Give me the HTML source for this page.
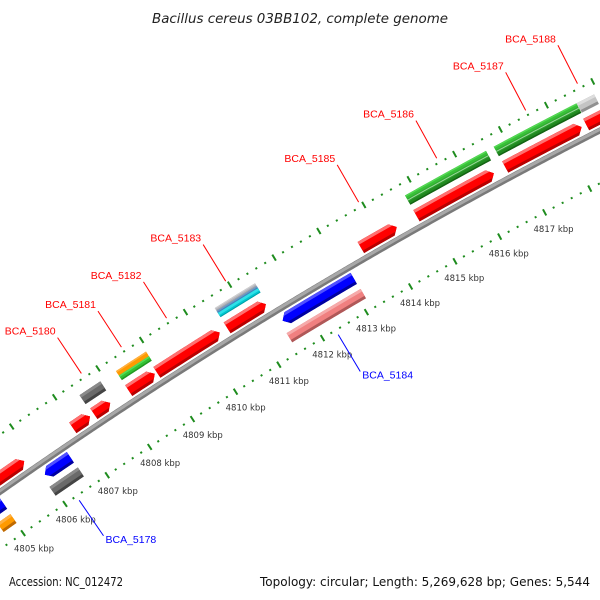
<!DOCTYPE html>
<html><head><meta charset="utf-8"><title>Bacillus cereus 03BB102 genome map</title>
<style>
html,body{margin:0;padding:0;background:#fff;}
svg{display:block;}
</style></head>
<body>
<svg id="map" width="600" height="600" viewBox="0 0 600 600" xmlns="http://www.w3.org/2000/svg">
  <rect x="0" y="0" width="600" height="600" fill="#ffffff"/>
  <defs id="defs"></defs>
  <g id="plot"></g>
  <text x="300" y="23" text-anchor="middle" font-family="'DejaVu Sans','Liberation Sans',sans-serif" font-style="italic" font-size="13" fill="#222" textLength="296" lengthAdjust="spacingAndGlyphs">Bacillus cereus 03BB102, complete genome</text>
  <text x="9" y="586" font-family="'DejaVu Sans','Liberation Sans',sans-serif" font-size="12" fill="#111" textLength="114" lengthAdjust="spacingAndGlyphs">Accession: NC_012472</text>
  <text x="590" y="586" text-anchor="end" font-family="'DejaVu Sans','Liberation Sans',sans-serif" font-size="12" fill="#111" textLength="330" lengthAdjust="spacingAndGlyphs">Topology: circular; Length: 5,269,628 bp; Genes: 5,544</text>
</svg>
<script>
// ---- data (kbp positions) ----
const featStart  = [4803.9, 4806.96, 4807.45, 4807.42, 4808.26, 4808.26, 4808.91, 4810.52, 4810.52, 4813.54, 4814.78, 4814.78, 4816.74, 4816.73, 4818.54, 4818.51, 4811.51, 4811.45, 4806.00, 4805.94, 4804.30, 4804.70];
const featEnd    = [4805.82, 4807.36, 4807.83, 4807.90, 4808.86, 4808.95, 4810.35, 4811.40, 4811.43, 4814.34, 4816.49, 4816.56, 4818.41, 4818.53, 4818.91, 4819.30, 4813.12, 4813.13, 4806.60, 4806.61, 4805.02, 4805.01];
const featStrand = [1, 1, 1, 1, 1, 1, 1, 1, 1, 1, 1, 1, 1, 1, 1, 1, -1, -1, -1, -1, -1, -1];
const featKind   = ["cds","cds","cds","gene","cds","gene","cds","cds","gene","cds","cds","gene","cds","gene","gene","cds","cds","gene","cds","gene","cds","gene"];
const featColor  = ["red","red","red","gray","red","orangegreen","red","red","graybluecyan","red","red","green2","red","green2","lightgray","red","blue","pink","blue","gray","blue","orange"];
const labelNames  = ["BCA_5180","BCA_5181","BCA_5182","BCA_5183","BCA_5185","BCA_5186","BCA_5187","BCA_5188","BCA_5184","BCA_5178"];
const labelKbp    = [4807.68, 4808.6, 4809.63, 4810.97, 4813.94, 4815.66, 4817.6, 4818.72, 4812.3, 4806.27];
const labelStrand = [1, 1, 1, 1, 1, 1, 1, 1, -1, -1];
const tickKbp     = [4805, 4806, 4807, 4808, 4809, 4810, 4811, 4812, 4813, 4814, 4815, 4816, 4817];
const tickLabels  = ["4805 kbp","4806 kbp","4807 kbp","4808 kbp","4809 kbp","4810 kbp","4811 kbp","4812 kbp","4813 kbp","4814 kbp","4815 kbp","4816 kbp","4817 kbp"];

// ---- geometry (axis functions) ----
const CX = 2872.8, CY = 4581.8, K0 = 4805, TH0 = -125.14, DPK = 0.5908;
const RB = 4998, RL = RB - 47, RU = RB + 47;
const NS = "http://www.w3.org/2000/svg";
function ang(k){ return (TH0 + DPK * (k - K0)) * Math.PI / 180; }
function pt(k, r){ const a = ang(k); return [CX + r * Math.cos(a), CY + r * Math.sin(a)]; }
function f(p){ return p[0].toFixed(2) + "," + p[1].toFixed(2); }
function arcPts(k1, k2, r){
  const n = Math.max(2, Math.ceil(Math.abs(k2 - k1) / 0.05));
  const out = [];
  for (let i = 0; i <= n; i++) out.push(pt(k1 + (k2 - k1) * i / n, r));
  return out;
}
const plot = document.getElementById("plot");
const defs = document.getElementById("defs");
function mk(tag, attrs, parent){
  const e = document.createElementNS(NS, tag);
  for (const k in attrs) e.setAttribute(k, attrs[k]);
  (parent || plot).appendChild(e);
  return e;
}
function circlePath(r){ return `M${CX - r},${CY} a${r},${r} 0 1,0 ${2*r},0 a${r},${r} 0 1,0 ${-2*r},0`; }
const clipCache = {};
function clipOut(r){
  const id = "co" + Math.round(r * 10);
  if (!clipCache[id]){
    const cp = mk("clipPath", {id: id}, defs);
    mk("path", {d: "M-9000,-9000 H9000 V9000 H-9000 Z " + circlePath(r), "clip-rule": "evenodd"}, cp);
    clipCache[id] = 1;
  }
  return "url(#" + id + ")";
}
function clipIn(r){
  const id = "ci" + Math.round(r * 10);
  if (!clipCache[id]){
    const cp = mk("clipPath", {id: id}, defs);
    mk("path", {d: circlePath(r)}, cp);
    clipCache[id] = 1;
  }
  return "url(#" + id + ")";
}
function shapePath(k1, k2, ri, ro, dir){
  const mid = (ri + ro) / 2;
  const tip = 6 / (mid * DPK * Math.PI / 180);
  let pts = [];
  if (dir === 1){
    const kb = Math.max(k1, k2 - tip);
    pts = arcPts(k1, kb, ro).concat([pt(k2, mid)], arcPts(kb, k1, ri));
  } else if (dir === -1){
    const kb = Math.min(k2, k1 + tip);
    pts = [pt(k1, mid)].concat(arcPts(kb, k2, ro), arcPts(k2, kb, ri));
  } else {
    pts = arcPts(k1, k2, ro).concat(arcPts(k2, k1, ri));
  }
  return "M" + pts.map(f).join(" L") + " Z";
}
const palette = {
  red:       [["#ff7070", "#ff0000", "#b80000"]],
  blue:      [["#5050ff", "#0000ff", "#0000a0"]],
  pink:      [["#f6aaaa", "#f08080", "#b05858"]],
  gray:      [["#8a8a8a", "#6a6a6a", "#444444"]],
  lightgray: [["#dddddd", "#c4c4c4", "#909090"]],
  orange:    [["#ffb040", "#ff9a00", "#c06a00"]],
  orangegreen:  [["#ffb040", "#ff9a00", "#ff9a00"], ["#55dd55", "#33c033", "#229922"]],
  graybluecyan: [["#d0d0d0", "#b8b8c0", "#9aa0a8"], ["#6a9ac8", "#4a80b8", "#3a6a9a"], ["#30e0e8", "#00c8d0", "#00a0a8"]],
  green2:       [["#55d855", "#38c038", "#30a830"], ["#2a9a2a", "#208820", "#146414"]]
};
function bandRange(strand, kind){
  if (strand === 1) return kind === "cds" ? [RB + 5, RB + 18] : [RB + 24, RB + 35];
  return kind === "cds" ? [RB - 18, RB - 5] : [RB - 35, RB - 24];
}

// ---- backbone ----
const bbPts = arcPts(4803.0, 4820.0, RB);
const bb1 = mk("polyline", {points: bbPts.map(f).join(" "), fill: "none", stroke: "#7a7a7a", "stroke-width": 6});


const bb2 = mk("polyline", {points: arcPts(4803.0, 4820.0, RB + 1).map(f).join(" "), fill: "none", stroke: "#a8a8a8", "stroke-width": 3});



// ---- rulers ----
function drawRuler(R, name){
  const g = mk("g", {});
  
  
  for (let i = 0; i <= 90; i++){
    const k = 4803 + i * 0.2;
    const major = Math.abs(k - Math.round(k)) < 1e-6;
    const len = major ? 3.5 : 1;
    const a = pt(k, R - len), b = pt(k, R + len);
    const t = mk("line", {x1: a[0], y1: a[1], x2: b[0], y2: b[1], stroke: "#1e8c1e", "stroke-width": 2}, g);
    
    
  }
}
drawRuler(RL, "lower-ruler");
drawRuler(RU, "upper-ruler");
tickKbp.forEach((k, i) => {
  const p = pt(k, RL - 19);
  const t = mk("text", {x: p[0], y: p[1] + 3, "text-anchor": "middle", "font-family": "'DejaVu Sans','Liberation Sans',sans-serif", "font-size": 8.5, fill: "#333"});
  t.textContent = tickLabels[i];
  
  
});

// ---- features ----
featStart.forEach((k1, i) => {
  const k2 = featEnd[i], s = featStrand[i], kind = featKind[i];
  const [ri, ro] = bandRange(s, kind);
  const dir = kind === "cds" ? s : 0;
  const d = shapePath(k1, k2, ri, ro, dir);
  const g = mk("g", {});
  
  
  const stripes = palette[featColor[i]];
  const n = stripes.length, h = (ro - ri) / n;
  stripes.forEach((c, j) => {
    const sb = ro - j * h, sa = sb - h;
    const g1 = mk("g", {"clip-path": clipOut(sa - 0.01)}, g);
    const g2 = mk("g", {"clip-path": clipIn(sb + 0.01)}, g1);
    mk("path", {d: d, fill: c[2]}, g2);
    const g3 = mk("g", {"clip-path": clipOut(sa + Math.min(3, h * 0.3))}, g2);
    mk("path", {d: d, fill: c[1]}, g3);
    const g4 = mk("g", {"clip-path": clipOut(sb - Math.min(3, h * 0.3))}, g3);
    mk("path", {d: d, fill: c[0]}, g4);
  });
  if (featColor[i] === "green2"){
    const ln = mk("polyline", {points: arcPts(k1, k2, ro - h).map(f).join(" "), fill: "none", stroke: "#9ad89a", "stroke-width": 1}, g);
    
    
  }
});

// ---- labels ----
labelNames.forEach((name, i) => {
  const k = labelKbp[i], s = labelStrand[i];
  const col = s === 1 ? "#ff0000" : "#0000ff";
  const a = pt(k, RB + 52 * s), b = pt(k, RB + 95 * s);
  const ln = mk("line", {x1: a[0], y1: a[1], x2: b[0], y2: b[1], stroke: col, "stroke-width": 1});
  
  
  const t = mk("text", {"font-family": "'Liberation Sans',sans-serif", "font-size": 10.5, fill: col});
  if (s === 1){
    t.setAttribute("x", b[0] - 2); t.setAttribute("y", b[1] - 3); t.setAttribute("text-anchor", "end");
  } else {
    t.setAttribute("x", b[0] + 2); t.setAttribute("y", b[1] + 7); t.setAttribute("text-anchor", "start");
  }
  t.textContent = name;
  
  
});
</script>
</body></html>
